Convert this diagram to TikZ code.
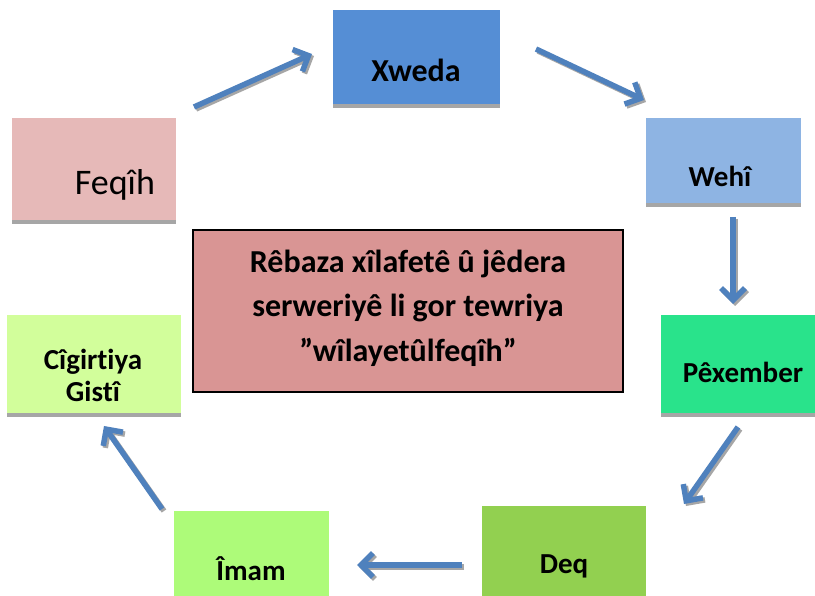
\documentclass[tikz,border=0pt]{standalone}
\usepackage{fontspec}
\setmainfont{Carlito}[Ligatures=NoCommon]
\usetikzlibrary{arrows.meta}
\definecolor{cFeqih}{HTML}{E6B9B8}
\definecolor{cXweda}{HTML}{558ED5}
\definecolor{cWehi}{HTML}{8EB4E3}
\definecolor{cPex}{HTML}{29E38B}
\definecolor{cCig}{HTML}{D2FE9B}
\definecolor{cImam}{HTML}{ADFB79}
\definecolor{cDeq}{HTML}{92D050}
\definecolor{cMid}{HTML}{D99594}
\definecolor{cArrow}{HTML}{4F81BD}
\definecolor{cShadow}{HTML}{A6A6A6}
\tikzset{
  box/.style={inner sep=0pt, outer sep=0pt, draw=none},
  lbl/.style={anchor=base, inner sep=0pt, font=\fontsize{29}{34}\selectfont\bfseries},
  biglbl/.style={anchor=base, inner sep=0pt, font=\fontsize{32}{38}\selectfont\bfseries},
  flowbase/.style={line width=5.5pt, -{Straight Barb[length=12pt,width=24pt]}},
  flow/.style={flowbase, draw=cArrow},
  flowsh/.style={flowbase, draw=cShadow},
}
\newcommand{\shbox}[6]{% name, x1, y1, x2, y2, color
  \fill[cShadow] (#2,#5) rectangle (#4,#5+4);
  \path[box, fill=#6] (#2,#3) rectangle (#4,#5);
  \node[box, minimum width=#4-#2, minimum height=#5-#3] (#1) at ({(#2+#4)/2},{(#3+#5)/2}) {};
}
\newcommand{\flowarrow}[2]{%
  \draw[flowsh] ([shift={(2,2)}]#1) -- ([shift={(2,2)}]#2);
  \draw[flow] (#1) -- (#2);
}
\begin{document}
\begin{tikzpicture}[x=1pt,y=-1pt]
\clip (0,0) rectangle (815,596);
\fill[white] (0,0) rectangle (815,596);
% boxes
\shbox{feqih}{12}{118}{176}{220}{cFeqih}
\shbox{xweda}{333}{10}{500}{104}{cXweda}
\shbox{wehi}{646}{118}{801}{203}{cWehi}
\shbox{pex}{661}{315}{825}{413}{cPex}
\shbox{cig}{7}{315}{181}{413}{cCig}
\shbox{imam}{174}{511}{329}{610}{cImam}
\shbox{deq}{482}{506}{646}{610}{cDeq}
\node[box, draw=black, line width=1.6pt, fill=cMid, minimum width=430pt, minimum height=162pt] (mid) at (408,311) {};
% labels
\node[anchor=base, inner sep=0pt, font=\fontsize{36}{40}\selectfont] (feqiht) at (115,195) {Feqîh};
\node[biglbl] (xwedat) at (416,82) {Xweda};
\node[lbl] (wehit) at (720,187) {Wehî};
\node[lbl] (pext) at (743,383) {Pêxember};
\node[lbl] (cigt1) at (93,370) {Cîgirtiya};
\node[lbl] (cigt2) at (93,402) {Gistî};
\node[lbl] (imamt) at (251,580) {Îmam};
\node[lbl] (deqt) at (564,573) {Deq};
\node[biglbl] (midt1) at (408,273) {Rêbaza xîlafetê û jêdera};
\node[biglbl] (midt2) at (408,317) {serweriyê li gor tewriya};
\node[biglbl] (midt3) at (408,362) {”wîlayetûlfeqîh”};
% arrow ends
\coordinate (a1s) at (194,107); \coordinate (a1e) at (312,54);
\coordinate (a2s) at (536,49);  \coordinate (a2e) at (644,100);
\coordinate (a3s) at (733,217); \coordinate (a3e) at (733,304);
\coordinate (a4s) at (738,427); \coordinate (a4e) at (684,504);
\coordinate (a5s) at (462,565); \coordinate (a5e) at (357,565);
\coordinate (a6s) at (162,509); \coordinate (a6e) at (104,426);
\flowarrow{a1s}{a1e}
\flowarrow{a2s}{a2e}
\flowarrow{a3s}{a3e}
\flowarrow{a4s}{a4e}
\flowarrow{a5s}{a5e}
\flowarrow{a6s}{a6e}
\end{tikzpicture}
\end{document}
